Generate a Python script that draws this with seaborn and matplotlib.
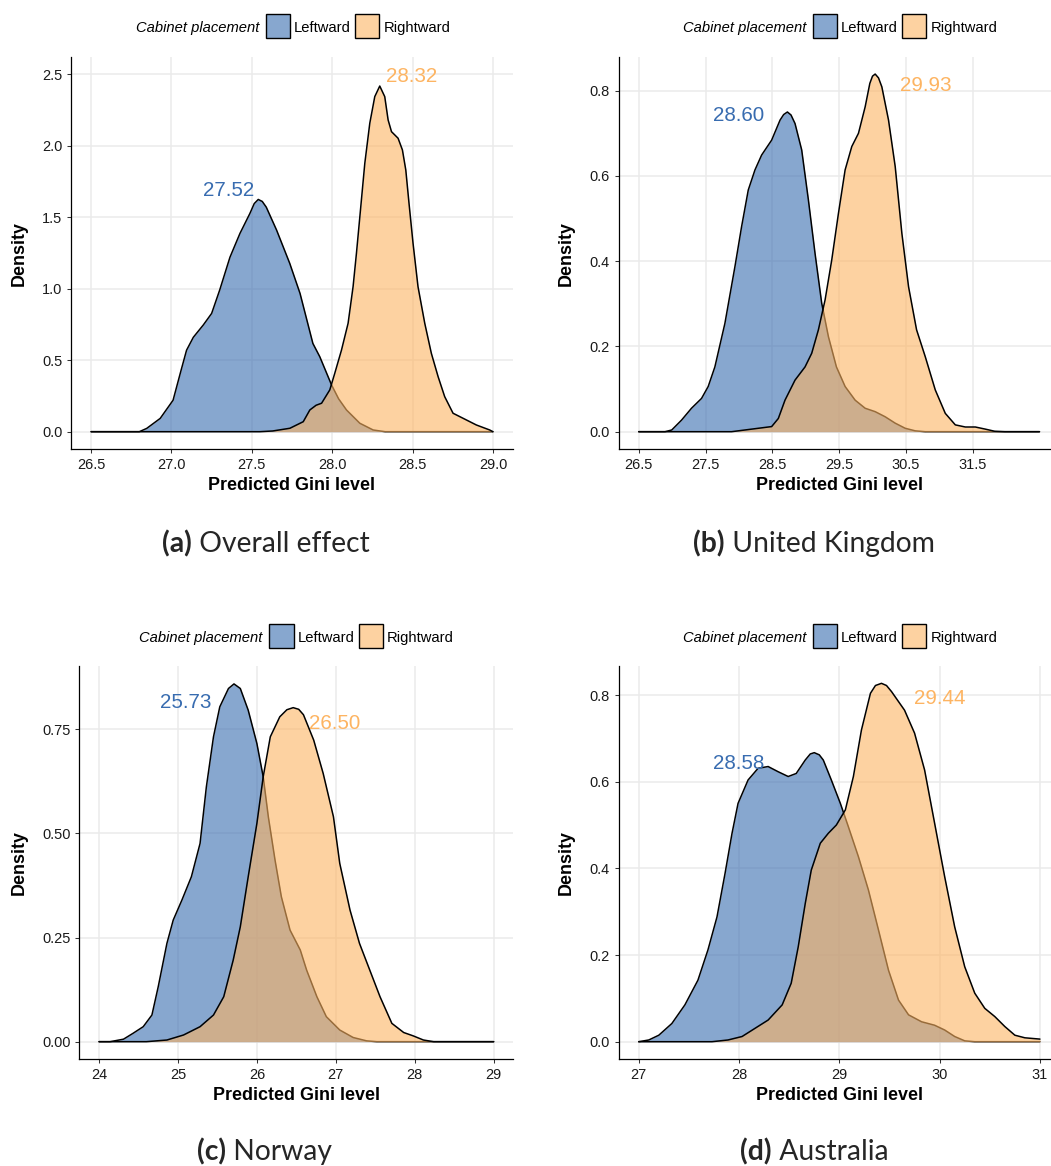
import numpy as np
import pandas as pd
import matplotlib
matplotlib.use("Agg")
import matplotlib.pyplot as plt
import seaborn as sns
from matplotlib.patches import Rectangle

# ---------------- data ----------------
a_left_x = [26.5, 26.80, 26.846, 26.93, 27.01, 27.06, 27.094, 27.136, 27.198, 27.25, 27.30, 27.364,
            27.426, 27.488, 27.515, 27.54, 27.565, 27.59, 27.654, 27.736, 27.80, 27.88, 27.923, 27.996,
            28.04, 28.089, 28.172, 28.255, 28.33, 29.0]
a_left_y = [0, 0, 0.023, 0.093, 0.22, 0.43, 0.57, 0.66, 0.746, 0.827, 0.99, 1.22,
            1.386, 1.526, 1.595, 1.624, 1.61, 1.57, 1.41, 1.177, 0.967, 0.617, 0.524, 0.327,
            0.23, 0.152, 0.059, 0.012, 0, 0]
a_right_x = [26.5, 27.55, 27.63, 27.737, 27.82, 27.861, 27.90, 27.934, 27.985, 28.016, 28.058, 28.099,
             28.130, 28.151, 28.176, 28.203, 28.234, 28.265, 28.296, 28.327, 28.348, 28.369, 28.41,
             28.437, 28.458, 28.478, 28.503, 28.534, 28.576, 28.617, 28.659, 28.70, 28.752, 28.814,
             28.897, 28.98, 29.0]
a_right_y = [0, 0, 0.005, 0.024, 0.07, 0.152, 0.185, 0.199, 0.292, 0.408, 0.571, 0.758,
             1.014, 1.248, 1.550, 1.877, 2.157, 2.343, 2.417, 2.343, 2.180, 2.098, 2.052,
             1.970, 1.830, 1.597, 1.318, 1.014, 0.758, 0.548, 0.385, 0.245, 0.129, 0.094,
             0.047, 0.012, 0]

b_left_x = [26.5, 26.894, 26.994, 27.14, 27.29, 27.44, 27.54, 27.64, 27.79, 27.94, 28.04, 28.14, 28.24,
            28.34, 28.49, 28.616, 28.67, 28.726, 28.78, 28.84, 28.94, 29.04, 29.14, 29.24, 29.34, 29.46,
            29.59, 29.74, 29.89, 30.04, 30.19, 30.34, 30.49, 30.64, 30.79, 32.5]
b_left_y = [0, 0, 0.004, 0.027, 0.055, 0.078, 0.106, 0.152, 0.254, 0.387, 0.481, 0.567, 0.614,
            0.649, 0.684, 0.731, 0.744, 0.75, 0.743, 0.723, 0.661, 0.544, 0.418, 0.301, 0.223, 0.152,
            0.106, 0.074, 0.055, 0.047, 0.035, 0.02, 0.008, 0.002, 0, 0]
b_right_x = [26.5, 27.89, 28.09, 28.29, 28.49, 28.59, 28.69, 28.84, 28.99, 29.09, 29.19, 29.29, 29.39,
             29.49, 29.59, 29.69, 29.79, 29.89, 29.96, 30.0, 30.04, 30.09, 30.14, 30.24, 30.34, 30.44,
             30.54, 30.66, 30.79, 30.94, 31.09, 31.24, 31.39, 31.54, 31.69, 31.83, 31.98, 32.5]
b_right_y = [0, 0, 0.004, 0.008, 0.012, 0.031, 0.074, 0.121, 0.152, 0.184, 0.239, 0.309, 0.403,
             0.512, 0.614, 0.669, 0.70, 0.762, 0.817, 0.834, 0.839, 0.830, 0.809, 0.731, 0.622, 0.465,
             0.34, 0.239, 0.176, 0.098, 0.043, 0.016, 0.011, 0.011, 0.006, 0.001, 0, 0]

c_left_x = [24.0, 24.14, 24.31, 24.43, 24.56, 24.67, 24.75, 24.86, 24.94, 25.05, 25.17, 25.28, 25.36,
            25.45, 25.53, 25.64, 25.71, 25.79, 25.89, 26.0, 26.08, 26.145, 26.23, 26.31, 26.42,
            26.55, 26.63, 26.76, 26.88, 27.05, 27.22, 27.39, 27.52, 29.0]
c_left_y = [0, 0, 0.006, 0.02, 0.036, 0.064, 0.132, 0.236, 0.292, 0.34, 0.396, 0.476, 0.612,
            0.732, 0.804, 0.848, 0.859, 0.848, 0.796, 0.716, 0.636, 0.54, 0.436, 0.348, 0.268,
            0.22, 0.172, 0.108, 0.06, 0.028, 0.01, 0.002, 0, 0]
c_right_x = [24.0, 24.6, 24.86, 25.07, 25.28, 25.45, 25.58, 25.70, 25.79, 25.89, 26.0, 26.08, 26.17,
             26.29, 26.38, 26.46, 26.53, 26.59, 26.72, 26.84, 26.97, 27.05, 27.18, 27.30, 27.43, 27.56,
             27.71, 27.86, 27.98, 28.11, 28.24, 29.0]
c_right_y = [0, 0, 0.004, 0.016, 0.036, 0.064, 0.108, 0.196, 0.276, 0.396, 0.524, 0.636, 0.732,
             0.78, 0.797, 0.802, 0.798, 0.785, 0.724, 0.644, 0.54, 0.428, 0.316, 0.236, 0.172, 0.108,
             0.044, 0.022, 0.014, 0.004, 0, 0]

d_left_x = [27.0, 27.10, 27.20, 27.33, 27.46, 27.59, 27.69, 27.78, 27.86, 27.93, 27.99, 28.09, 28.19,
            28.29, 28.39, 28.49, 28.57, 28.66, 28.71, 28.75, 28.80, 28.84, 28.92, 29.01, 29.09, 29.19,
            29.29, 29.39, 29.49, 29.59, 29.69, 29.82, 29.95, 30.05, 30.15, 30.25, 30.35, 31.0]
d_left_y = [0, 0.004, 0.015, 0.042, 0.085, 0.142, 0.212, 0.288, 0.388, 0.481, 0.55, 0.604, 0.631,
            0.635, 0.623, 0.612, 0.619, 0.65, 0.664, 0.667, 0.662, 0.65, 0.604, 0.55, 0.496, 0.427,
            0.35, 0.258, 0.165, 0.096, 0.062, 0.046, 0.038, 0.027, 0.012, 0.002, 0, 0]
d_right_x = [27.0, 27.73, 27.89, 28.03, 28.16, 28.29, 28.43, 28.52, 28.59, 28.66, 28.72, 28.81, 28.89,
             28.97, 29.06, 29.14, 29.22, 29.31, 29.36, 29.42, 29.47, 29.52, 29.65, 29.75, 29.85, 29.95,
             30.05, 30.15, 30.25, 30.35, 30.45, 30.55, 30.65, 30.75, 30.85, 31.0]
d_right_y = [0, 0, 0.004, 0.012, 0.031, 0.05, 0.085, 0.135, 0.219, 0.319, 0.396, 0.458, 0.481,
             0.50, 0.535, 0.612, 0.719, 0.804, 0.822, 0.827, 0.822, 0.808, 0.765, 0.712, 0.627, 0.504,
             0.381, 0.265, 0.173, 0.112, 0.077, 0.058, 0.035, 0.015, 0.009, 0.006]

series_names = ["Leftward", "Rightward"]
mean_labels = {"a": ["27.52", "28.32"], "b": ["28.60", "29.93"],
               "c": ["25.73", "26.50"], "d": ["28.58", "29.44"]}
captions = {"a": ("(a)", "Overall effect"), "b": ("(b)", "United Kingdom"),
            "c": ("(c)", "Norway"), "d": ("(d)", "Australia")}
x_ticks = {"a": [26.5, 27.0, 27.5, 28.0, 28.5, 29.0], "b": [26.5, 27.5, 28.5, 29.5, 30.5, 31.5],
           "c": [24, 25, 26, 27, 28, 29], "d": [27, 28, 29, 30, 31]}
y_ticks = {"a": [0.0, 0.5, 1.0, 1.5, 2.0, 2.5], "b": [0.0, 0.2, 0.4, 0.6, 0.8],
           "c": [0.0, 0.25, 0.50, 0.75], "d": [0.0, 0.2, 0.4, 0.6, 0.8]}

# ---------------- styling / layout ----------------
W, H = 1051, 1166
DPI = 100
BLUE = "#386CB0"
ORANGE = "#FDB462"
ALPHA = 0.6
GF = ["Liberation Sans", "DejaVu Sans"]
CAPF = ["Lato", "DejaVu Sans"]

sns.set_style("white")
plt.rcParams["font.family"] = GF

fig = plt.figure(figsize=(W / DPI, H / DPI), dpi=DPI)


def fx(px):
    return px / W


def fy(py):
    return 1 - py / H


panels = {
    "a": dict(box=(71, 513, 57, 449), xlim=(26.375, 29.125), ylim=(-0.121, 2.620), xf="{:.1f}", yf="{:.1f}",
              ann=[(27.355, 1.648), (28.497, 2.445)], ylab_x=19, xlab_y=485, key_left=265.7, leg_y=26.3,
              data=(a_left_x, a_left_y, a_right_x, a_right_y), cap=(266, 552)),
    "b": dict(box=(618.7, 1059.5, 57, 449), xlim=(26.2, 32.8), ylim=(-0.0406, 0.879), xf="{:.1f}", yf="{:.1f}",
              ann=[(27.99, 0.7295), (30.80, 0.80)], ylab_x=566.7, xlab_y=485, key_left=812.7, leg_y=26.3,
              data=(b_left_x, b_left_y, b_right_x, b_right_y), cap=(814, 552)),
    "c": dict(box=(79.3, 513.4, 666, 1059.3), xlim=(23.75, 29.25), ylim=(-0.0423, 0.902), xf="{:.0f}", yf="{:.2f}",
              ann=[(25.098, 0.80), (26.99, 0.75)], ylab_x=19, xlab_y=1095, key_left=269.3, leg_y=636.2,
              data=(c_left_x, c_left_y, c_right_x, c_right_y), cap=(265, 1160)),
    "d": dict(box=(618.7, 1060, 666, 1059.3), xlim=(26.8, 31.2), ylim=(-0.0406, 0.867), xf="{:.0f}", yf="{:.1f}",
              ann=[(27.993, 0.629), (29.997, 0.779)], ylab_x=566.7, xlab_y=1095, key_left=812.7, leg_y=636.2,
              data=(d_left_x, d_left_y, d_right_x, d_right_y), cap=(814.5, 1160)),
}

renderer = fig.canvas.get_renderer()

# caption font size fitted so caption (a) spans the reference width
probe1 = fig.text(0, 0, "(a)", fontsize=20, weight="bold", family=CAPF)
probe2 = fig.text(0, 0, " Overall effect", fontsize=20, family=CAPF)
wprobe = probe1.get_window_extent(renderer).width + probe2.get_window_extent(renderer).width
CAP_FS = 20 * 208.0 / wprobe
probe1.remove()
probe2.remove()

for key, p in panels.items():
    l, r, t, b = p["box"]
    ax = fig.add_axes([fx(l), fy(b), (r - l) / W, (b - t) / H])
    lx, ly, rx, ry = p["data"]
    df_l = pd.DataFrame({"x": lx, "y": ly})
    df_r = pd.DataFrame({"x": rx, "y": ry})

    ax.fill_between(df_l["x"], df_l["y"], color=BLUE, alpha=ALPHA, lw=0, zorder=2.0)
    sns.lineplot(data=df_l, x="x", y="y", ax=ax, color="black", lw=1.1, sort=False,
                 estimator=None, zorder=2.1)
    ax.fill_between(df_r["x"], df_r["y"], color=ORANGE, alpha=ALPHA, lw=0, zorder=2.2)
    sns.lineplot(data=df_r, x="x", y="y", ax=ax, color="black", lw=1.1, sort=False,
                 estimator=None, zorder=2.3)
    for ln in ax.get_lines():
        ln.set_solid_joinstyle("round")

    for (tx, ty), lab, col in zip(p["ann"], mean_labels[key], [BLUE, ORANGE]):
        ax.text(tx, ty, lab, color=col, fontsize=14.9, ha="center", va="baseline", zorder=3)

    ax.set_xlim(*p["xlim"])
    ax.set_ylim(*p["ylim"])
    ax.set_xticks(x_ticks[key])
    ax.set_xticklabels([p["xf"].format(v) for v in x_ticks[key]])
    ax.set_yticks(y_ticks[key])
    ax.set_yticklabels([p["yf"].format(v) for v in y_ticks[key]])
    ax.grid(True, color="#EBEBEB", lw=1.1)
    ax.set_axisbelow(True)
    for s in ["top", "right"]:
        ax.spines[s].set_visible(False)
    for s in ["left", "bottom"]:
        ax.spines[s].set_color("black")
        ax.spines[s].set_linewidth(0.9)
    ax.tick_params(axis="both", direction="out", length=2.75, width=0.75, color="#333333",
                   labelsize=10.45, labelcolor="#1a1a1a", pad=3.6, bottom=True, left=True)

    ax.set_xlabel("Predicted Gini level", fontsize=12.85, weight="bold", color="black")
    ax.set_ylabel("Density", fontsize=12.85, weight="bold", color="black")
    ax.xaxis.label.set_va("center")
    ax.yaxis.label.set_va("center")
    ax.xaxis.set_label_coords(0.5, (b - p["xlab_y"]) / (b - t))
    ax.yaxis.set_label_coords((p["ylab_x"] - l) / (r - l), 0.5)

    # legend (ggplot style, top, horizontal)
    kl = p["key_left"]
    ly0 = p["leg_y"]
    ks = 24.3
    fig.text(fx(kl - 6.5), fy(ly0 + 6.0), "Cabinet placement", fontsize=10.65, style="italic",
             ha="right", va="baseline", color="black")
    for off, col, name in [(0, BLUE, series_names[0]), (89.3, ORANGE, series_names[1])]:
        rect = Rectangle((fx(kl + off), fy(ly0 + ks / 2)), ks / W, ks / H, transform=fig.transFigure,
                         facecolor=matplotlib.colors.to_rgba(col, ALPHA), edgecolor="black", lw=1.0)
        fig.add_artist(rect)
        fig.text(fx(kl + off + ks + 4.0), fy(ly0 + 6.0), name, fontsize=10.65, ha="left",
                 va="baseline", color="black")

    # caption under the panel
    cx, cy = p["cap"]
    tag, name = captions[key]
    t1 = fig.text(0, fy(cy), tag, fontsize=CAP_FS, weight="bold", family=CAPF, va="baseline", ha="left")
    t2 = fig.text(0, fy(cy), " " + name, fontsize=CAP_FS, family=CAPF, va="baseline", ha="left")
    w1 = t1.get_window_extent(renderer).width
    w2 = t2.get_window_extent(renderer).width
    left = cx - (w1 + w2) / 2
    t1.set_x(fx(left))
    t2.set_x(fx(left + w1))

fig.savefig("out.png", dpi=DPI, facecolor="white")
